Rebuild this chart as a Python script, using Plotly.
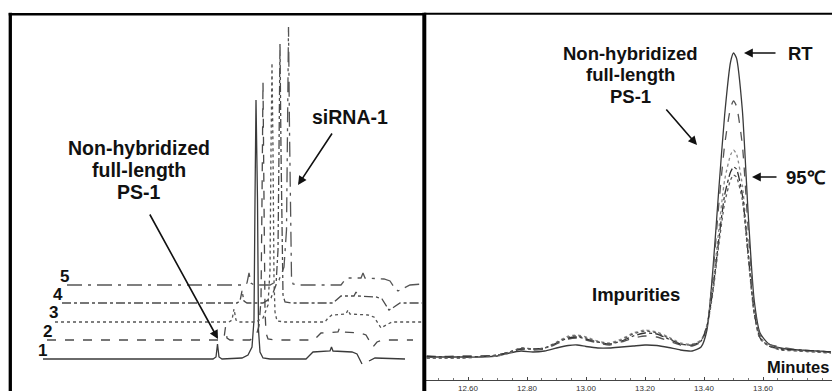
import plotly.graph_objects as go

W, H = 832, 391

# ---------------- Left panel: stacked chromatograms (arbitrary units) ----------------
LANE1_T = [31, 138, 201, 204, 205.5, 207, 210, 230, 236, 240, 242, 243, 244, 245.5, 246.5, 248, 251, 258,
           294, 297, 301, 318, 319.5, 321, 340, 345, 348, 350, None, 357, 363, 393]
LANE1_S = [32, 32, 32, 34, 47, 34, 32, 33, 36, 44, 71, 191, 291, 191, 61, 39, 33, 32,
           32, 35, 39, 40, 44, 40, 39, 37, 31, 27, None, 30, 33, 32]

LANE2_T = [35, 138, 209, 212, 213.5, 215, 218, 238, 244, 247, 249, 250, 251, 252, 253, 254, 256, 263,
           302, 305, 309, 326, 327.5, 329, 348, 354, 358, 361, 365, 370, 401]
LANE2_S = [51, 51, 51, 53, 64, 53, 51, 51, 55, 65, 91, 191, 309, 191, 81, 58, 52, 51,
           51, 54, 58, 59, 63, 59, 58, 56, 49, 44, 49, 51, 51]

LANE3_T = [43, 138, 217, 220, 222, 224, 227, 244, 251, 256, 258, 259, 260, 261, 262, 263, 265, 273,
           313, 316, 320, 334, 336, 338, 356, 362, 366, 369, 374, 380, 410]
LANE3_S = [69, 69, 69, 71, 82, 71, 69, 69, 73, 86, 121, 241, 328, 241, 111, 79, 70, 69,
           69, 73, 76, 77, 81, 77, 76, 74, 68, 63, 66, 69, 69]

LANE4_T = [50, 138, 225, 228, 230, 232, 235, 251, 259, 264, 266, 267, 268, 269, 270, 271, 273, 280,
           321, 325, 329, 342, 344, 346, 364, 370, 374, 377, 382, 388, 410]
LANE4_S = [88, 88, 88, 90, 100, 90, 88, 88, 93, 106, 141, 241, 347, 241, 131, 96, 89, 88,
           88, 92, 95, 95, 99, 95, 94, 92, 86, 81, 84, 88, 88]

LANE5_T = [55, 138, 233, 235, 237, 239, 242, 258, 267, 272, 274.5, 275.5, 276.5, 277.5, 278.5, 279.5, 281, 288,
           329, 332, 336, 349, 351, 353, 372, 378, 382, 386, 392, 398, 410]
LANE5_S = [106, 106, 106, 108, 118, 108, 106, 106, 111, 124, 161, 261, 364, 261, 151, 114, 107, 106,
           106, 110, 113, 113, 118, 113, 112, 110, 104, 100, 103, 106, 107]

LANE_LABELS = ["1", "2", "3", "4", "5"]

# ---------------- Right panel: overlaid chromatograms (minutes vs signal) ----------------
RP_TIME = [12.46, 12.52, 12.58, 12.64, 12.70, 12.74, 12.78, 12.82, 12.86, 12.90, 12.94, 12.97, 13.00,
           13.04, 13.08, 13.12, 13.16, 13.20, 13.24, 13.28, 13.32, 13.36, 13.39, 13.41, 13.43, 13.45,
           13.47, 13.49, 13.50, 13.51, 13.53, 13.55, 13.57, 13.59, 13.62, 13.66, 13.72, 13.78, 13.83]
RP_RT = [23, 23, 23, 23, 24, 27, 29, 28, 29, 32, 34.5, 35, 33.5,
         32, 32, 33, 34, 35, 34.5, 32.5, 30, 29, 33, 50, 110, 190,
         265, 318, 327, 322, 270, 165, 80, 47, 36, 32, 30, 29, 28]
RP_B = [24, 23.5, 24, 24, 25, 28, 31, 30, 31, 36, 41, 42, 40,
        37, 35, 38, 42, 44, 43, 39, 35, 34, 38, 53, 105, 175,
        235, 272, 279, 274, 235, 150, 75, 45, 36, 33, 30, 29, 28]
RP_C = [22, 22, 22, 23, 24, 27, 32, 31, 32, 38, 44, 45, 43,
        39, 37, 41, 47, 50, 48, 43, 37, 36, 40, 55, 95, 150,
        200, 225, 230, 226, 195, 130, 70, 43, 35, 31, 29, 28, 27]
RP_D = [23.5, 23, 23, 23.5, 25, 28, 31, 31, 32, 37, 42, 43, 41,
        38, 36, 39, 44, 47, 46, 41, 36, 35, 39, 54, 90, 140,
        185, 208, 213, 211, 185, 125, 68, 42, 34, 31, 30, 29, 28]
RP_95C = [22, 22, 22, 23, 25, 28, 32, 31, 32, 37, 43, 44, 42,
          38, 36, 40, 46, 49, 47, 42, 36, 35, 39, 53, 87, 135,
          177, 200, 205, 203, 180, 122, 66, 41, 34, 30, 29, 28, 27]

RP_TICKS = [12.6, 12.8, 13.0, 13.2, 13.4, 13.6]

FONT = "Liberation Sans, Arial, Helvetica, sans-serif"

fig = go.Figure()

lanes = [(LANE1_T, LANE1_S, "solid", "#3a3a3a"),
         (LANE2_T, LANE2_S, "dash", "#4a4a4a"),
         (LANE3_T, LANE3_S, "dot", "#555555"),
         (LANE4_T, LANE4_S, "dashdot", "#4a4a4a"),
         (LANE5_T, LANE5_S, "longdashdot", "#555555")]
for t, s, dash, col in lanes:
    fig.add_trace(go.Scatter(x=t, y=s, mode="lines", xaxis="x", yaxis="y",
                             line=dict(color=col, width=1.3, dash=dash),
                             connectgaps=False, hoverinfo="skip"))

rtraces = [(RP_RT, "solid", "#3a3a3a"),
           (RP_B, "dash", "#555555"),
           (RP_C, "dot", "#8a8a8a"),
           (RP_D, "dashdot", "#333333"),
           (RP_95C, "dot", "#5a5a5a")]
for s, dash, col in rtraces:
    fig.add_trace(go.Scatter(x=RP_TIME, y=s, mode="lines", xaxis="x2", yaxis="y2",
                             line=dict(color=col, width=1.3, dash=dash, shape="spline", smoothing=0.6),
                             hoverinfo="skip"))


def px(x):
    return x / W


def py(y):
    return 1 - y / H


annotations = []


def label(text, x, y, size, anchor="center"):
    annotations.append(dict(text="<b>%s</b>" % text, x=px(x), y=py(y), xref="paper", yref="paper",
                            xanchor=anchor, yanchor="middle", showarrow=False,
                            font=dict(family=FONT, size=size, color="#111111")))


def arrow(hx, hy, tx, ty, head=2):
    annotations.append(dict(text="", x=px(hx), y=py(hy), xref="paper", yref="paper",
                            ax=tx - hx, ay=ty - hy, showarrow=True, arrowhead=head,
                            arrowsize=1.1, arrowwidth=1.6, arrowcolor="#111111"))


# left panel texts
label("Non-hybridized", 139, 148, 19.5)
label("full-length", 139, 170, 19.5)
label("PS-1", 139, 192, 19.5)
label("siRNA-1", 350, 117, 19.5)
arrow(298, 185, 333, 132)
arrow(218, 339, 149, 213)
for lab, (x, y) in zip(LANE_LABELS, [(42, 350), (47, 331), (53, 312), (58, 294), (64, 276)]):
    label(lab, x, y, 17)

# right panel texts
label("Non-hybridized", 630, 53, 18.5)
label("full-length", 630, 75, 18.5)
label("PS-1", 630, 97, 18.5)
arrow(697, 145, 665, 108)
label("RT", 800, 53, 18.5)
arrow(744, 53, 777, 53)
label("95℃", 806, 177, 18.5)
arrow(752, 177, 778, 177)
label("Impurities", 636, 294, 18.5)
label("Minutes", 798, 367, 16.5)

shapes = [
    dict(type="line", xref="paper", yref="paper", x0=px(10.3), x1=px(10.3), y0=0, y1=py(12.7),
         line=dict(color="black", width=3.3)),
    dict(type="line", xref="paper", yref="paper", x0=px(8.7), x1=px(425), y0=py(14.3), y1=py(14.3),
         line=dict(color="black", width=2.5)),
    dict(type="line", xref="paper", yref="paper", x0=px(424.3), x1=px(424.3), y0=0, y1=py(12.7),
         line=dict(color="black", width=4)),
    dict(type="line", xref="paper", yref="paper", x0=px(424), x1=1, y0=py(13.7), y1=py(13.7),
         line=dict(color="black", width=2)),
]

t_left = 12.60 - (468 - 426) / 295.0
t_right = 13.60 + (832 - 763) / 295.0

fig.update_layout(
    width=W, height=H, margin=dict(l=0, r=0, t=0, b=0, autoexpand=False),
    paper_bgcolor="white", plot_bgcolor="white", showlegend=False,
    xaxis=dict(domain=[px(12), px(422)], range=[0, 410], visible=False, automargin=False),
    yaxis=dict(domain=[0, 1], range=[0, 391], visible=False, automargin=False),
    xaxis2=dict(domain=[px(426), 1], range=[t_left, t_right], anchor="y2", automargin=False,
                showline=True, linecolor="#444444", linewidth=1, showgrid=False, zeroline=False,
                ticks="inside", ticklen=3, tickcolor="#444444",
                tickmode="array", tickvals=RP_TICKS, ticktext=["%.2f" % v for v in RP_TICKS],
                tickfont=dict(family=FONT, size=8, color="#333333"),
                minor=dict(tickmode="linear", tick0=12.6, dtick=0.05, ticks="inside",
                           ticklen=2, tickcolor="#777777")),
    yaxis2=dict(domain=[(H - 380) / H, 1], range=[0, 380], visible=False, anchor="x2", automargin=False),
    annotations=annotations, shapes=shapes,
)

fig.write_html("out.html")
